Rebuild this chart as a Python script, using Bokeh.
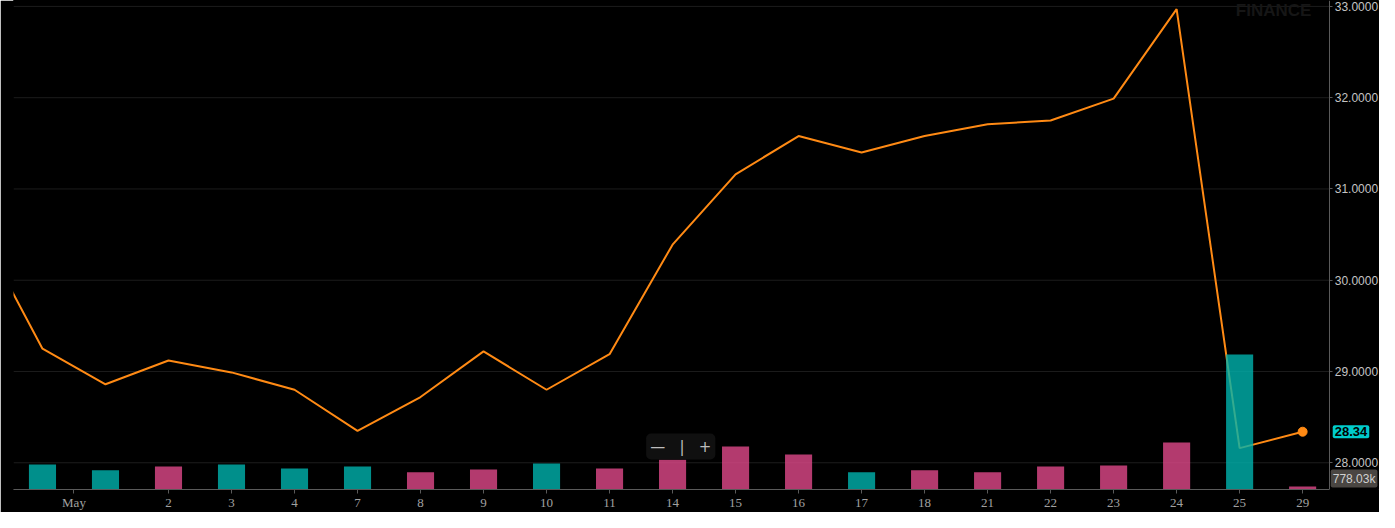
from bokeh.plotting import figure
from bokeh.models import Range1d, FixedTicker, Label, NumeralTickFormatter, ColumnDataSource
from bokeh.embed import file_html
from bokeh.resources import INLINE

# daily closes, 2018 (first one is only partly in view)
dates = ["Apr 27", "Apr 30", "May 1", "May 2", "May 3", "May 4", "May 7", "May 8",
         "May 9", "May 10", "May 11", "May 14", "May 15", "May 16", "May 17",
         "May 18", "May 21", "May 22", "May 23", "May 24", "May 25", "May 29"]
close = [30.55, 29.25, 28.86, 29.12, 28.99, 28.80, 28.35, 28.72, 29.22, 28.80,
         29.19, 30.39, 31.16, 31.58, 31.40, 31.58, 31.71, 31.75, 31.99, 32.97,
         28.16, 28.34]

# volume (thousands) from Apr 30 on, and whether the bar is an "up" bar
volume = [6560, 5000, 6040, 6560, 5520, 6040, 4490, 5260, 6820, 5520, 7800,
          11230, 9150, 4490, 5000, 4490, 6040, 6300, 12260, 35270, 778.03]
vol_up = [1, 1, 0, 1, 1, 1, 0, 0, 1, 0, 0, 0, 0, 1, 0, 0, 0, 0, 0, 1, 0]

price_ticks = [28, 29, 30, 31, 32, 33]

UP = "#00B3AE"
DOWN = "#E0488A"
ORANGE = "#FF8A14"
AXIS = "#5a5a5a"
X0, X1 = 0.54, 22.22      # visible index range
AXIS_X = 21.43            # where the price scale sits

x = list(range(len(dates)))
vx = x[1:]
vsrc = ColumnDataSource(dict(x=vx, v=volume,
                             c=[UP if u else DOWN for u in vol_up]))

p = figure(width=1379, height=512, output_backend="svg", toolbar_location=None,
           x_range=Range1d(X0, X1), y_range=Range1d(27.707, 33.065),
           y_axis_location="right", min_border_left=13, min_border_top=0,
           min_border_bottom=14, min_border_right=0)
p.extra_y_ranges = {"vol": Range1d(0, 127835)}
p.background_fill_color = "#000000"
p.border_fill_color = "#000000"
p.outline_line_color = "#000000"

# horizontal grid stops at the price scale
p.xgrid.visible = False
p.ygrid.visible = False
p.segment(x0=[X0] * len(price_ticks), x1=[AXIS_X] * len(price_ticks),
          y0=price_ticks, y1=price_ticks, line_color="#1c1c1c", line_width=1)

# price line, then volume bars on top (semi transparent)
p.line(x, close, line_color=ORANGE, line_width=2)
p.scatter([x[-1]], [close[-1]], size=9, color=ORANGE)
p.vbar(x="x", top="v", width=0.43, bottom=0, source=vsrc, fill_color="c",
       line_color=None, fill_alpha=0.8, y_range_name="vol")

# axes
ya = p.yaxis[0]
ya.fixed_location = AXIS_X
ya.ticker = FixedTicker(ticks=price_ticks)
ya.formatter = NumeralTickFormatter(format="0.0000")
ya.axis_line_color = AXIS
ya.major_tick_line_color = AXIS
ya.major_tick_out = 3
ya.major_tick_in = 0
ya.minor_tick_line_color = None
ya.major_label_text_color = "#c4c4c4"
ya.major_label_text_font = "Liberation Sans"
ya.major_label_text_font_size = "12px"
ya.major_label_standoff = 2

tick_pos = [1.5] + x[3:]
tick_lbl = ["May"] + [d.split(" ")[1] for d in dates[3:]]
xa = p.xaxis[0]
xa.bounds = (X0, AXIS_X)
xa.ticker = FixedTicker(ticks=tick_pos)
xa.major_label_overrides = {t: l for t, l in zip(tick_pos, tick_lbl)}
xa.axis_line_color = AXIS
xa.major_tick_line_color = AXIS
xa.major_tick_out = 4
xa.major_tick_in = 0
xa.minor_tick_line_color = None
xa.major_label_text_color = "#a0a0a0"
xa.major_label_text_font = "Liberation Serif"
xa.major_label_text_font_size = "13px"
xa.major_label_standoff = 1

# last value tags on the price scale
p.add_layout(Label(x=AXIS_X, y=close[-1], x_offset=3, text="%.2f" % close[-1],
                   text_baseline="middle", text_color="#000000",
                   text_font="Liberation Sans", text_font_size="13px",
                   text_font_style="bold", background_fill_color="#00CCCC",
                   padding=2, border_radius=2))
p.add_layout(Label(x=AXIS_X, y=0, y_range_name="vol", x_offset=1, y_offset=2,
                   text="%.2fk" % volume[-1], text_baseline="bottom",
                   text_color="#d0d0d0", text_font="Liberation Sans",
                   text_font_size="12px", background_fill_color="#4a4642",
                   padding=2, border_radius=2))

# watermark and zoom control
p.add_layout(Label(x=20.54, y=33.065, text="FINANCE", text_align="center",
                   text_baseline="top", text_color="#161616",
                   text_font="Liberation Sans", text_font_size="17px",
                   text_font_style="bold"))
nb = "\u00a0" * 3
p.add_layout(Label(x=11.13, y=0, y_range_name="vol", y_offset=30,
                   text="\u2014" + nb + "|" + nb + "+", text_align="center",
                   text_baseline="bottom", text_color="#bdbdbd",
                   text_font="DejaVu Sans", text_font_size="15px",
                   background_fill_color="#101010", padding=4, border_radius=5))

open("out.html", "w").write(file_html(p, INLINE))
